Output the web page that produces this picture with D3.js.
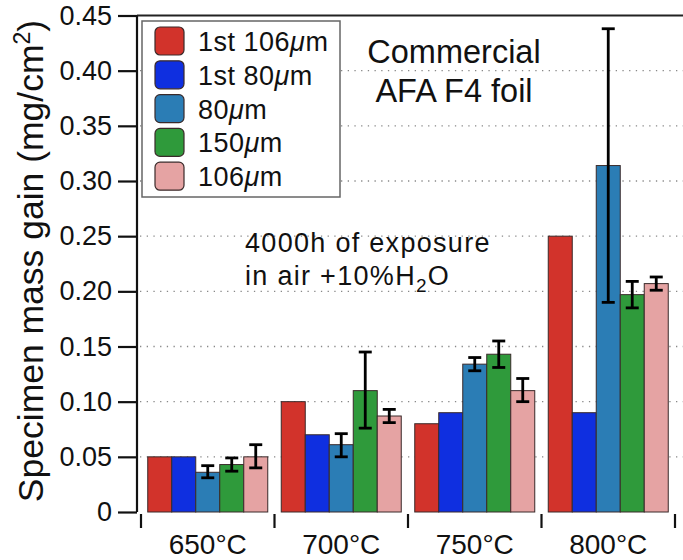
<!DOCTYPE html>
<html>
<head>
<meta charset="utf-8">
<script src="https://cdn.jsdelivr.net/npm/d3@7"></script>
<style>
  body { margin: 0; background: #fff; }
  svg text { font-family: "Liberation Sans", Arial, Helvetica, sans-serif; fill: #111; }
</style>
</head>
<body>
<svg id="chart" width="683" height="560"></svg>
<script>
// temperatures on the x axis
var groups = ["650\u00B0C", "700\u00B0C", "750\u00B0C", "800\u00B0C"];
// legend entries (the "μm" part is appended when drawing)
var seriesNames = ["1st 106", "1st 80", "80", "150", "106"];
var seriesColors = ["#d2332b", "#0f2fe0", "#2b7db5", "#2f9a3b", "#e5a3a3"];

// mass gain values (mg/cm2), one array per series
var first106 = [0.050, 0.100, 0.080, 0.250];
var first80  = [0.050, 0.070, 0.090, 0.090];
var um80     = [0.036, 0.061, 0.134, 0.314];
var um150    = [0.043, 0.110, 0.143, 0.197];
var um106    = [0.050, 0.087, 0.110, 0.207];

// error bars [low, high], null where there is none
var first106Err = [null, null, null, null];
var first80Err  = [null, null, null, null];
var um80Err  = [[0.031, 0.042], [0.050, 0.071], [0.128, 0.140], [0.190, 0.438]];
var um150Err = [[0.037, 0.049], [0.076, 0.145], [0.131, 0.155], [0.185, 0.209]];
var um106Err = [[0.040, 0.061], [0.081, 0.093], [0.100, 0.121], [0.201, 0.213]];

var yTicks = [0, 0.05, 0.10, 0.15, 0.20, 0.25, 0.30, 0.35, 0.40, 0.45];

var seriesValues = [first106, first80, um80, um150, um106];
var seriesErrors = [first106Err, first80Err, um80Err, um150Err, um106Err];

var svg = d3.select("#chart");
var axisX = 137;

var y = d3.scaleLinear().domain([0, 0.45]).range([512, 15.5]);
var x = d3.scaleBand().domain(groups).range([141, 675]).padding(0);
var xInner = d3.scaleBand().domain(d3.range(seriesNames.length))
    .range([6.75, x.bandwidth() - 6.75]).padding(0);

// build one flat list of bars
var bars = [];
groups.forEach(function (g, gi) {
    seriesNames.forEach(function (s, si) {
        bars.push({group: g, series: si, value: seriesValues[si][gi], err: seriesErrors[si][gi]});
    });
});

// dotted grid
svg.append("g").selectAll("line")
    .data(yTicks.filter(function (t) { return t > 0 && t < 0.45; }))
    .enter().append("line")
    .attr("x1", axisX + 3).attr("x2", 683)
    .attr("y1", function (d) { return y(d); })
    .attr("y2", function (d) { return y(d); })
    .attr("stroke", "#888")
    .attr("stroke-width", 1.3)
    .attr("stroke-dasharray", "1.3,5.4");

// top frame line
svg.append("line")
    .attr("x1", axisX).attr("x2", 683)
    .attr("y1", y(0.45)).attr("y2", y(0.45))
    .attr("stroke", "#222").attr("stroke-width", 2.2);

// bars
svg.append("g").selectAll("rect")
    .data(bars)
    .enter().append("rect")
    .attr("x", function (d) { return x(d.group) + xInner(d.series); })
    .attr("y", function (d) { return y(d.value); })
    .attr("width", xInner.bandwidth())
    .attr("height", function (d) { return y(0) - y(d.value); })
    .attr("fill", function (d) { return seriesColors[d.series]; })
    .attr("stroke", "#3a2a2a")
    .attr("stroke-width", 1);

// error bars
var errGroup = svg.append("g").selectAll("g")
    .data(bars.filter(function (d) { return d.err; }))
    .enter().append("g")
    .attr("transform", function (d) {
        return "translate(" + (x(d.group) + xInner(d.series) + xInner.bandwidth() / 2) + ",0)";
    })
    .attr("stroke", "#000")
    .attr("stroke-width", 2.8);

errGroup.append("line")
    .attr("y1", function (d) { return y(d.err[0]); })
    .attr("y2", function (d) { return y(d.err[1]); });
errGroup.selectAll("line.cap")
    .data(function (d) { return d.err; })
    .enter().append("line").classed("cap", true)
    .attr("x1", -6.5).attr("x2", 6.5)
    .attr("y1", function (v) { return y(v); })
    .attr("y2", function (v) { return y(v); });

// y axis
var yAxis = d3.axisLeft(y)
    .tickValues(yTicks)
    .tickSize(19)
    .tickPadding(6)
    .tickFormat(function (d) { return d === 0 ? "0" : d3.format(".2f")(d); });

var yG = svg.append("g").attr("transform", "translate(" + axisX + ",0)").call(yAxis);
yG.selectAll("path, line").attr("stroke", "#111").attr("stroke-width", 2.2);
yG.select(".domain").attr("d", "M0," + y(0.45) + "V" + y(0));
yG.selectAll("text").attr("font-size", 27).attr("font-family", null).attr("fill", "#111");

// x axis: ticks between groups, no baseline
var xEdges = groups.map(function (g) { return x(g); }).concat([x.range()[1]]);
svg.append("g").selectAll("line")
    .data(xEdges)
    .enter().append("line")
    .attr("x1", function (d) { return d; }).attr("x2", function (d) { return d; })
    .attr("y1", 514).attr("y2", 528)
    .attr("stroke", "#111").attr("stroke-width", 2.2);

svg.append("g").selectAll("text")
    .data(groups)
    .enter().append("text")
    .attr("x", function (d) { return x(d) + x.bandwidth() / 2; })
    .attr("y", 554)
    .attr("text-anchor", "middle")
    .attr("font-size", 28)
    .text(function (d) { return d; });

// y axis title
var yTitle = svg.append("text")
    .attr("transform", "translate(43,261) rotate(-90)")
    .attr("text-anchor", "middle")
    .attr("font-size", 35.5);
yTitle.append("tspan").text("Specimen mass gain (mg/cm");
yTitle.append("tspan").attr("font-size", 23).attr("dy", -13).text("2");
yTitle.append("tspan").attr("dy", 13).text(")");

// annotations
svg.append("text").attr("x", 454).attr("y", 63).attr("text-anchor", "middle")
    .attr("font-size", 32.5).text("Commercial");
svg.append("text").attr("x", 454).attr("y", 102).attr("text-anchor", "middle")
    .attr("font-size", 32.5).text("AFA F4 foil");

svg.append("text").attr("x", 245).attr("y", 252)
    .attr("font-size", 27).attr("letter-spacing", 1.3)
    .text("4000h of exposure");
var h2o = svg.append("text").attr("x", 245).attr("y", 285)
    .attr("font-size", 27).attr("letter-spacing", 1.3);
h2o.append("tspan").text("in air +10%H");
h2o.append("tspan").attr("font-size", 19).attr("dy", 7).text("2");
h2o.append("tspan").attr("dy", -7).text("O");

// legend
var legend = svg.append("g");
legend.append("rect")
    .attr("x", 142).attr("y", 21).attr("width", 198).attr("height", 176)
    .attr("fill", "#fff").attr("stroke", "#666").attr("stroke-width", 1.5);

var legendRow = d3.scaleLinear().domain([0, 1]).range([41, 74.8]);
var items = legend.selectAll("g.item")
    .data(seriesNames)
    .enter().append("g").classed("item", true)
    .attr("transform", function (d, i) { return "translate(0," + legendRow(i) + ")"; });

items.append("rect")
    .attr("x", 155).attr("y", -14).attr("width", 29).attr("height", 28)
    .attr("rx", 5).attr("ry", 5)
    .attr("fill", function (d, i) { return seriesColors[i]; })
    .attr("stroke", "#3a2a2a").attr("stroke-width", 1.2);

var itemText = items.append("text")
    .attr("x", 198).attr("y", 10)
    .attr("font-size", 27).attr("letter-spacing", 0.5);
itemText.append("tspan").text(function (d) { return d; });
itemText.append("tspan").attr("font-style", "italic").text("\u03BC");
itemText.append("tspan").text("m");
</script>
</body>
</html>
